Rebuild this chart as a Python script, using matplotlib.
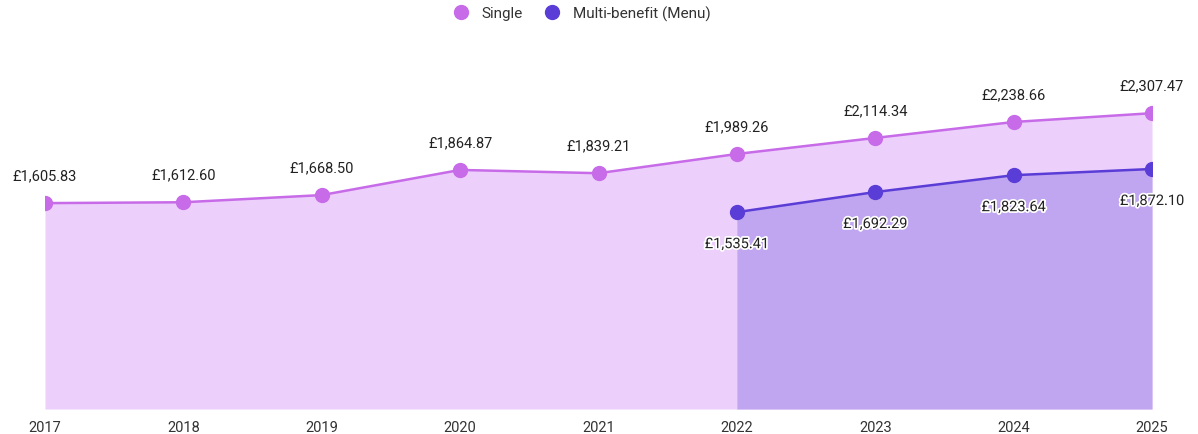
import matplotlib
matplotlib.use("Agg")
import matplotlib.pyplot as plt
import matplotlib.patheffects as pe
from matplotlib.lines import Line2D

years = [2017, 2018, 2019, 2020, 2021, 2022, 2023, 2024, 2025]
single = [1605.83, 1612.60, 1668.50, 1864.87, 1839.21, 1989.26, 2114.34, 2238.66, 2307.47]
multi_years = [2022, 2023, 2024, 2025]
multi = [1535.41, 1692.29, 1823.64, 1872.10]

single_line = "#c76be8"
single_fill = "#eccffb"
multi_line = "#5a3dd6"
multi_fill = "#c0a5f0"
text_color = "#222222"

plt.rcParams["font.family"] = ["Roboto", "DejaVu Sans"]

fig = plt.figure(figsize=(11.98, 4.35), dpi=100)
ax = fig.add_axes([45 / 1198, 25 / 435, (1152 - 45) / 1198, 370 / 435])

ax.fill_between(years, single, 0, color=single_fill, linewidth=0, zorder=1)
ax.fill_between(multi_years, multi, 0, color=multi_fill, linewidth=0, zorder=2)
ax.plot(years, single, color=single_line, lw=1.8, marker="o", ms=10, zorder=3)
ax.plot(multi_years, multi, color=multi_line, lw=1.8, marker="o", ms=10, zorder=4)

halo = [pe.withStroke(linewidth=2.5, foreground="white")]
for x, v in zip(years, single):
    ax.annotate(f"£{v:,.2f}", (x, v), xytext=(0, 15), textcoords="offset points",
                ha="center", va="bottom", fontsize=10.5, color=text_color,
                annotation_clip=False, zorder=6)
for x, v in zip(multi_years, multi):
    ax.annotate(f"£{v:,.2f}", (x, v), xytext=(0, -18), textcoords="offset points",
                ha="center", va="top", fontsize=10.5, color=text_color,
                annotation_clip=False, zorder=6, path_effects=halo)

ax.set_xlim(2017, 2025)
ax.set_ylim(0, 370 * 7.8)
ax.set_xticks(years)
ax.set_xticklabels([str(y) for y in years], fontsize=10.5, color="#333333")
ax.tick_params(axis="x", length=0, pad=8)
ax.set_yticks([])
for s in ax.spines.values():
    s.set_visible(False)

handles = [
    Line2D([], [], linestyle="none", marker="o", ms=10, color=single_line),
    Line2D([], [], linestyle="none", marker="o", ms=10, color=multi_line),
]
fig.legend(handles, ["Single", "Multi-benefit (Menu)"], loc="center",
           bbox_to_anchor=(578 / 1198, 1 - 14 / 435), ncol=2, frameon=False,
           fontsize=11, handletextpad=0.35, columnspacing=0.9, labelcolor="#333333")

fig.savefig("out.png", dpi=100)
